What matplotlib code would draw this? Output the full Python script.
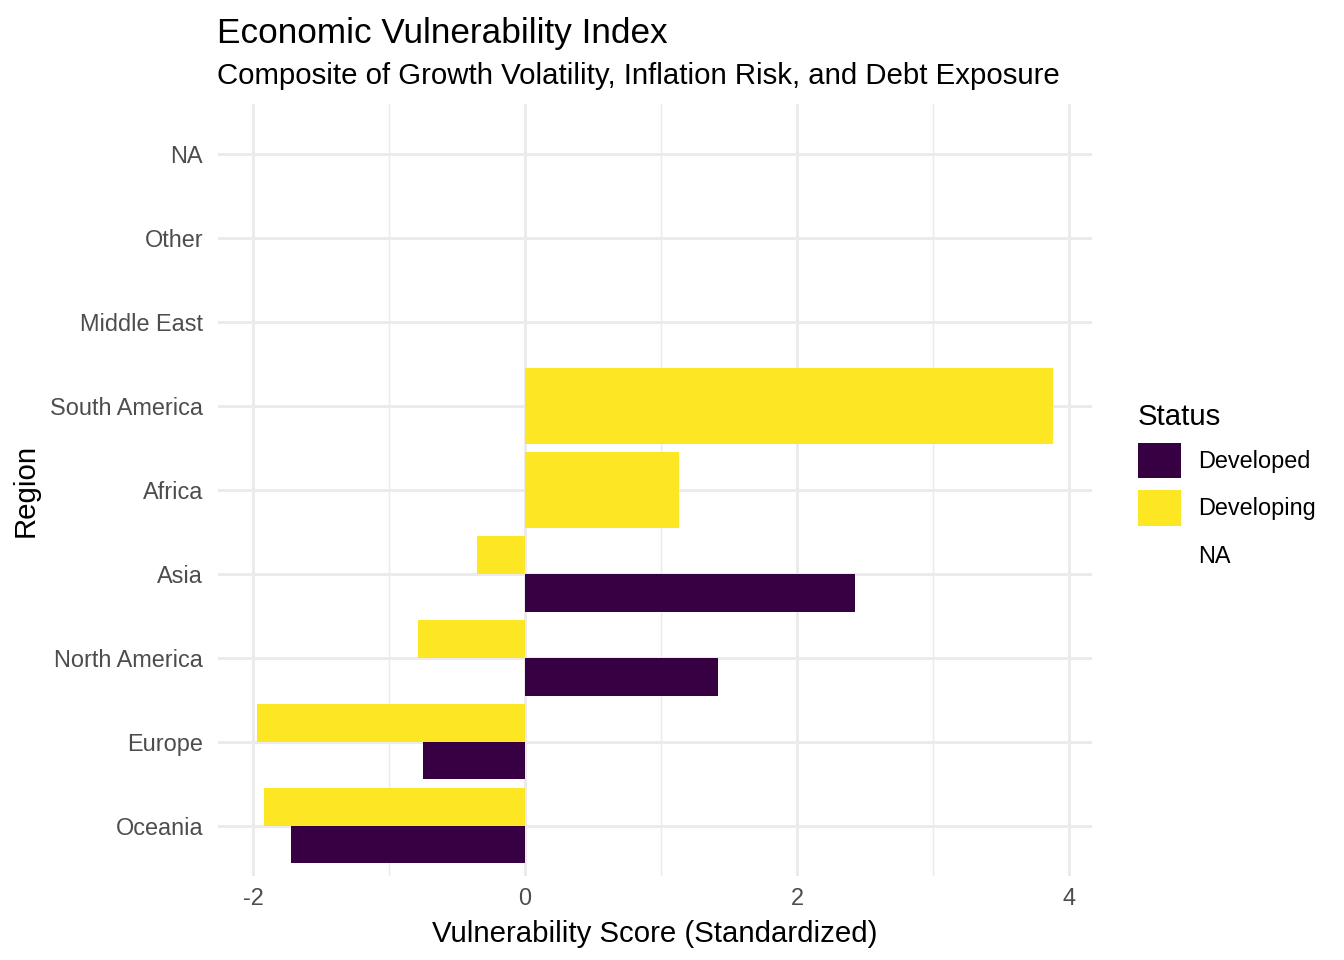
import numpy as np
import matplotlib
matplotlib.use("Agg")
import matplotlib.pyplot as plt
from matplotlib.patches import Patch

plt.rcParams['font.family'] = ['Liberation Sans', 'DejaVu Sans']

# data
regions = ['Oceania', 'Europe', 'North America', 'Asia', 'Africa',
           'South America', 'Middle East', 'Other', 'NA']
developed = [-1.72, -0.75, 1.42, 2.43, None, None, None, None, None]
developing = [-1.92, -1.97, -0.79, -0.35, 1.13, 3.88, None, None, None]
status_labels = ['Developed', 'Developing', 'NA']
colors = {'Developed': '#360042', 'Developing': '#FDE725'}

fig = plt.figure(figsize=(7, 5), dpi=192)
ax = fig.add_axes([0.162, 0.0875, 0.6505, 0.8042])

ypos = np.arange(1, len(regions) + 1)
for y, dv, dg in zip(ypos, developed, developing):
    if dv is not None and dg is not None:
        ax.barh(y - 0.225, dv, height=0.45, color=colors['Developed'], zorder=3)
        ax.barh(y + 0.225, dg, height=0.45, color=colors['Developing'], zorder=3)
    elif dg is not None:
        ax.barh(y, dg, height=0.9, color=colors['Developing'], zorder=3)
    elif dv is not None:
        ax.barh(y, dv, height=0.9, color=colors['Developed'], zorder=3)

ax.set_xlim(-2.26, 4.17)
ax.set_ylim(0.4, 9.6)
ax.set_yticks(ypos)
ax.set_yticklabels(regions)
ax.set_xticks([-2, 0, 2, 4])
ax.set_xticklabels(['-2', '0', '2', '4'])
ax.set_xticks([-1, 1, 3], minor=True)

ax.grid(True, which='major', color='#EBEBEB', linewidth=1.1, zorder=0)
ax.grid(True, which='minor', axis='x', color='#EBEBEB', linewidth=0.55, zorder=0)
for s in ax.spines.values():
    s.set_visible(False)
ax.tick_params(which='both', length=0, labelsize=8.8, colors='#4D4D4D', pad=4)
ax.tick_params(axis='y', pad=5.5)

ax.set_xlabel('Vulnerability Score (Standardized)', fontsize=11, labelpad=4)
ax.set_ylabel('Region', fontsize=11, labelpad=4)

fig.text(0.1615, 0.955, 'Economic Vulnerability Index', fontsize=13.2, va='baseline')
fig.text(0.1615, 0.913, 'Composite of Growth Volatility, Inflation Risk, and Debt Exposure',
         fontsize=11, va='baseline')

handles = [Patch(facecolor=colors['Developed']), Patch(facecolor=colors['Developing']),
           Patch(facecolor='none', edgecolor='none')]
leg = fig.legend(handles, status_labels, title='Status', loc='upper left',
                 bbox_to_anchor=(0.8398, 0.590), frameon=False, fontsize=8.8,
                 title_fontsize=11, handlelength=1.85, handleheight=1.95,
                 labelspacing=0.51, handletextpad=0.7, borderaxespad=0)
leg._legend_box.align = 'left'
leg._legend_box.sep = 4.4

fig.savefig('out.png', dpi=192)
